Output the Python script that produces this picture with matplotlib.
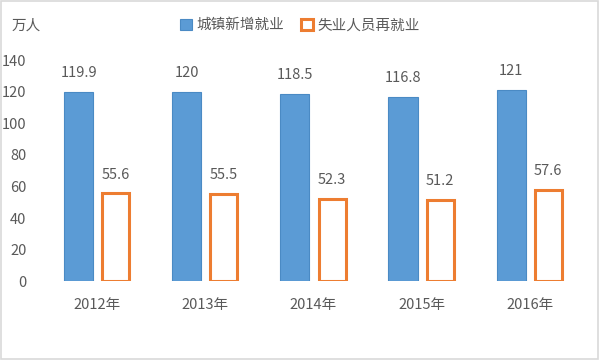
import numpy as np
import matplotlib.pyplot as plt
from matplotlib.patches import Rectangle

plt.rcParams['font.family'] = ['Noto Sans CJK SC', 'DejaVu Sans']

years = ["2012年", "2013年", "2014年", "2015年", "2016年"]
new_jobs = [119.9, 120, 118.5, 116.8, 121]
reemployed = [55.6, 55.5, 52.3, 51.2, 57.6]
value_labels_new = ["119.9", "120", "118.5", "116.8", "121"]
value_labels_re = ["55.6", "55.5", "52.3", "51.2", "57.6"]

blue = "#5B9BD5"
orange = "#ED7D31"
gray = "#595959"

fig = plt.figure(figsize=(6, 3.6), dpi=100)
ax = fig.add_axes([0.072, 0.219, 0.901, 0.614])

x = np.arange(len(years))
w = 0.27
gap = 0.074
bars1 = ax.bar(x - (w + gap) / 2, new_jobs, w, color=blue, edgecolor="#4A8AC4", linewidth=0.8,
               label="城镇新增就业")
bars2 = ax.bar(x + (w + gap) / 2, reemployed, w - 0.02, facecolor="white", edgecolor=orange,
               linewidth=2.2, label="失业人员再就业")

for b, t in zip(bars1, value_labels_new):
    ax.text(b.get_x() + b.get_width() / 2, b.get_height() + 7.5, t, ha="center", va="bottom",
            fontsize=10.5, color=gray)
for b, t in zip(bars2, value_labels_re):
    ax.text(b.get_x() + b.get_width() / 2, b.get_height() + 7.5, t, ha="center", va="bottom",
            fontsize=10.5, color=gray)

ax.set_xlim(-0.5, len(years) - 0.5)
ax.set_ylim(0, 140)
ax.set_yticks(range(0, 141, 20))
ax.set_xticks(x)
ax.set_xticklabels(years)
ax.tick_params(axis="both", length=0, labelsize=10.5, colors=gray)
ax.tick_params(axis="x", pad=12)
ax.tick_params(axis="y", pad=12)
for s in ax.spines.values():
    s.set_visible(False)

fig.text(0.02, 0.93, "万人", fontsize=10.5, color=gray, va="center")
fig.legend(loc="center", bbox_to_anchor=(0.5, 0.93), ncol=2, frameon=False, fontsize=10.5,
           labelcolor=gray, handlelength=0.8, handleheight=0.8, handletextpad=0.3,
           columnspacing=1.2)

fig.patches.append(Rectangle((0.002, 0.003), 0.995, 0.994, transform=fig.transFigure,
                             fill=False, edgecolor="#D9D9D9", linewidth=1.2))

fig.savefig("out.png", dpi=100)
